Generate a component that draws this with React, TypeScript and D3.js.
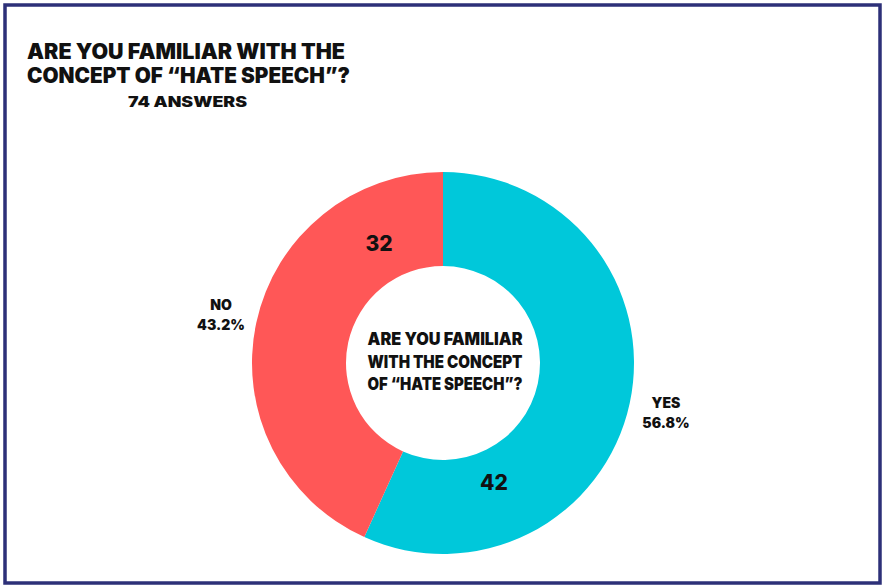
import React from "react";
import * as d3 from "d3";

const categories = ["YES", "NO"];
const counts = [42, 32];
const percentLabels = ["56.8%", "43.2%"];
const colors = ["#00C8DA", "#FF5757"];
const titleLines = ["ARE YOU FAMILIAR WITH THE", "CONCEPT OF \u201CHATE SPEECH\u201D?"];
const subtitle = "74 ANSWERS";
const centerLines = ["ARE YOU FAMILIAR", "WITH THE CONCEPT", "OF \u201CHATE SPEECH\u201D?"];

const W = 885;
const H = 586;
const cx = 443;
const cy = 363;
const outerR = 191;
const innerR = 97;
const FONT = "Inter, 'DejaVu Sans', sans-serif";

export default function App() {
  const pie = d3
    .pie<number>()
    .sort(null)
    .value((d) => d)
    .startAngle(0)
    .endAngle(2 * Math.PI);
  const arcs = pie(counts);
  const arcGen = d3.arc<d3.PieArcDatum<number>>().innerRadius(innerR).outerRadius(outerR);

  // positions for count labels (polar, relative to center) and outside labels
  const countLabelPos = [
    { x: 494, y: 490 },
    { x: 379, y: 251 },
  ];
  const outsideLabelPos = [
    { x: 666, y: 408 },
    { x: 221, y: 310 },
  ];

  return (
    <svg
      width={W}
      height={H}
      style={{ position: "absolute", left: 0, top: 0, background: "#fff" }}
    >
      <rect x={5} y={5} width={875} height={578} fill="#fff" stroke="#2D3078" strokeWidth={3.5} />
      <g fontFamily={FONT} fontWeight={900} fill="#111">
        <text x={27} y={59} fontSize={21} textLength={318} lengthAdjust="spacingAndGlyphs">
          {titleLines[0]}
        </text>
        <text x={27} y={83} fontSize={21} textLength={323} lengthAdjust="spacingAndGlyphs">
          {titleLines[1]}
        </text>
        <text x={128} y={107} fontSize={14} textLength={119} lengthAdjust="spacingAndGlyphs">
          {subtitle}
        </text>
      </g>
      <g transform={`translate(${cx},${cy})`}>
        {arcs.map((a, i) => (
          <path key={categories[i]} d={arcGen(a) || ""} fill={colors[i]} />
        ))}
      </g>
      <g fontFamily={FONT} fontWeight={900} fill="#111" textAnchor="middle">
        {centerLines.map((t, i) => (
          <text
            key={t}
            x={445}
            y={345 + i * 22.5}
            fontSize={17}
            textLength={155}
            lengthAdjust="spacingAndGlyphs"
          >
            {t}
          </text>
        ))}
        {arcs.map((a, i) => (
          <text key={"c" + i} x={countLabelPos[i].x} y={countLabelPos[i].y} fontSize={21} fontWeight={800}>
            {counts[i]}
          </text>
        ))}
        {arcs.map((a, i) => (
          <g key={"o" + i}>
            <text x={outsideLabelPos[i].x} y={outsideLabelPos[i].y} fontSize={14}>
              {categories[i]}
            </text>
            <text x={outsideLabelPos[i].x} y={outsideLabelPos[i].y + 20} fontSize={14}>
              {percentLabels[i]}
            </text>
          </g>
        ))}
      </g>
    </svg>
  );
}
